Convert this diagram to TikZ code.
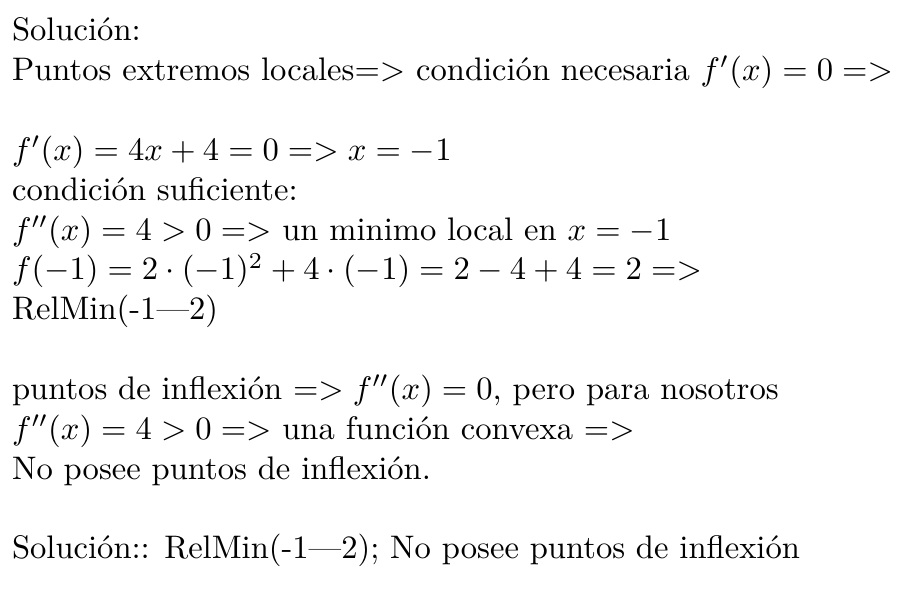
\documentclass[tikz,border=0pt]{standalone}
\usepackage{amsmath}
\usepackage{amssymb}
\usepackage{tikz}
\usetikzlibrary{positioning, calc}

\tikzset{
    txtline/.style={anchor=base west, inner sep=0pt, outer sep=0pt, font=\normalsize}
}

\begin{document}
\begin{tikzpicture}[x=1pt, y=1pt]
    % --- Bounding box ---
    \useasboundingbox (0, 0) rectangle (278.8, 180.65);

    % --- Extremos locales ---
    \node[txtline] (sol) at (3.7, 168.14) {Solución:};
    \node[txtline] (ext) at (3.7, 155.92) {Puntos extremos locales$=>$ condición necesaria $f'(x) = 0 =>$};

    \node[txtline] (dev) at (3.7, 131.48) {$f'(x) = 4x + 4 = 0 => x = -1$};
    \node[txtline] (suf) at (3.7, 119.26) {condición suficiente:};
    \node[txtline] (seg) at (3.7, 107.04) {$f''(x) = 4 > 0 =>$ un minimo local en $x = -1$};
    \node[txtline] (val) at (3.7, 94.82) {$f(-1) = 2 \cdot (-1)^2 + 4 \cdot (-1) = 2 - 4 + 4 = 2 =>$};
    \node[txtline] (min) at (3.7, 82.60) {RelMin(-1---2)};

    % --- Puntos de inflexion ---
    \node[txtline] (inf) at (3.7, 58.16) {puntos de inflexión $=> f''(x) = 0$, pero para nosotros};
    \node[txtline] (cvx) at (3.7, 45.94) {$f''(x) = 4 > 0 =>$ una función convexa $=>$};
    \node[txtline] (nop) at (3.7, 33.72) {No posee puntos de inflexión.};

    % Resultado final
    \node[txtline] (res) at (3.7, 9.28) {Solución:: RelMin(-1---2); No posee puntos de inflexión};
\end{tikzpicture}
\end{document}
